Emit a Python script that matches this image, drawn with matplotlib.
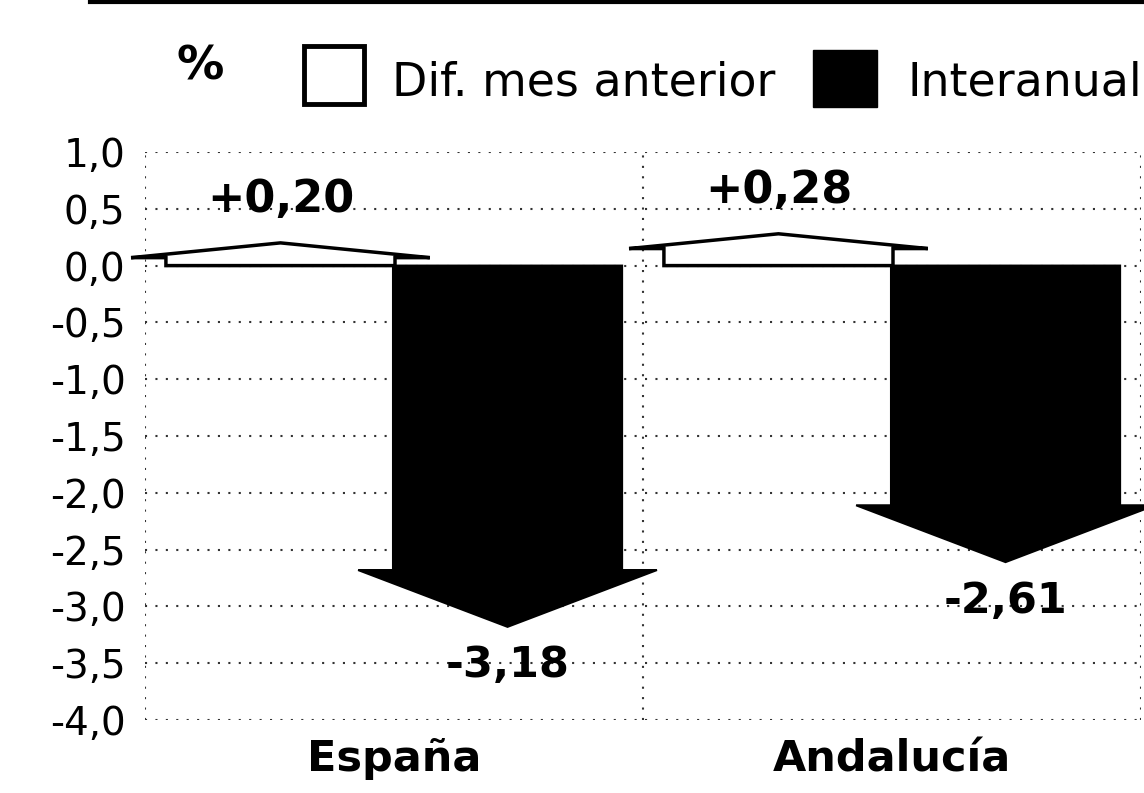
import matplotlib
matplotlib.use("Agg")
import matplotlib.pyplot as plt
from matplotlib.patches import Polygon, Rectangle
from matplotlib.lines import Line2D
import numpy as np

# ---- data ----
categories = ["España", "Andalucía"]
series_names = ["Dif. mes anterior", "Interanual"]
dif_mes = [0.20, 0.28]
interanual = [-3.18, -2.61]
dif_labels = ["+0,20", "+0,28"]
inter_labels = ["-3,18", "-2,61"]
yticks = [1.0, 0.5, 0.0, -0.5, -1.0, -1.5, -2.0, -2.5, -3.0, -3.5, -4.0]
ytick_labels = ["1,0", "0,5", "0,0", "-0,5", "-1,0", "-1,5", "-2,0", "-2,5", "-3,0", "-3,5", "-4,0"]

W, H = 1144, 793
fig = plt.figure(figsize=(W / 100, H / 100), dpi=100)
fig.patch.set_facecolor("white")
ax = fig.add_axes([145 / W, 73 / H, 996 / W, 568 / H])
ax.set_xlim(-0.5, 1.5)
ax.set_ylim(-4.0, 1.0)
for s in ax.spines.values():
    s.set_visible(False)

dot = (0, (1, 4))
gcol = "#333333"
for yv in yticks:
    ax.axhline(yv, ls=dot, color=gcol, lw=1.5, zorder=0)
for xv in [-0.5, 0.5, 1.5]:
    ax.axvline(xv, ls=dot, color=gcol, lw=1.5, zorder=0)

ax.set_yticks(yticks, ytick_labels)
ax.tick_params(axis="y", length=0, pad=14, labelsize=28)
ax.set_xticks(range(len(categories)), categories)
ax.tick_params(axis="x", length=0, pad=13, labelsize=31)
for lab in ax.get_xticklabels():
    lab.set_fontweight("bold")


def arrow(xc, v, bw, hw, hl, face, edge, lw):
    s = np.sign(v)
    base = v - s * hl
    pts = [(xc - bw / 2, 0), (xc - bw / 2, base), (xc - hw / 2, base), (xc, v),
           (xc + hw / 2, base), (xc + bw / 2, base), (xc + bw / 2, 0)]
    ax.add_patch(Polygon(pts, closed=True, facecolor=face, edgecolor=edge,
                         lw=lw, joinstyle="miter", zorder=3, clip_on=False))


off = 0.228
bw = 0.46
hw = 0.60
x = np.arange(len(categories))
for i in range(len(categories)):
    arrow(x[i] - off, dif_mes[i], bw, hw, 0.13, "white", "black", 2.5)
    arrow(x[i] + off, interanual[i], bw, hw, 0.50, "black", "black", 1.5)
    ax.text(x[i] - off, dif_mes[i] + 0.38, dif_labels[i], ha="center", va="center",
            fontsize=32, fontweight="bold", zorder=4)
    ax.text(x[i] + off, interanual[i] - 0.34, inter_labels[i], ha="center", va="center",
            fontsize=31, fontweight="bold", zorder=4)


def fx(px):
    return px / W


def fy(py):
    return 1 - py / H


# top border line
fig.add_artist(Line2D([fx(90), 1.0], [fy(1.5), fy(1.5)], transform=fig.transFigure,
                      color="black", lw=3))

# legend
fig.text(fx(200), fy(67), "%", ha="center", va="center", fontsize=34, fontweight="bold")
fig.add_artist(Rectangle((fx(304), fy(104)), fx(60), 58 / H, transform=fig.transFigure,
                         facecolor="white", edgecolor="black", lw=3.5))
fig.text(fx(392), fy(95), series_names[0], ha="left", va="baseline", fontsize=33)
fig.add_artist(Rectangle((fx(813), fy(107)), fx(64), 57 / H, transform=fig.transFigure,
                         facecolor="black", edgecolor="black", lw=1))
fig.text(fx(907), fy(95), series_names[1], ha="left", va="baseline", fontsize=33)

fig.savefig("out.png", dpi=100)
